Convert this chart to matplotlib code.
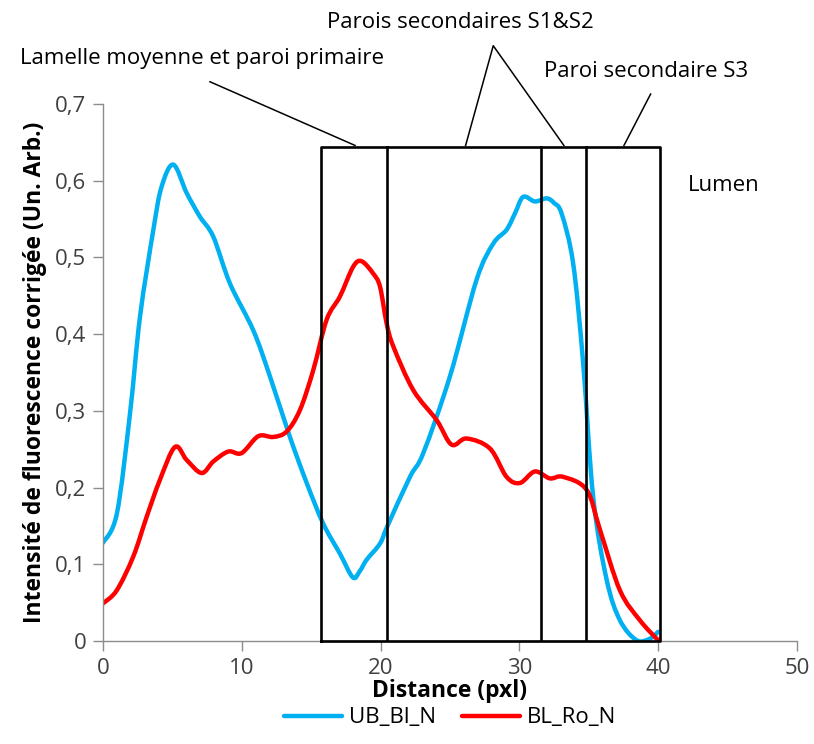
import numpy as np
import matplotlib
matplotlib.use("Agg")
import matplotlib.pyplot as plt
from matplotlib.path import Path
from matplotlib.patches import PathPatch
from matplotlib.lines import Line2D

# profils de fluorescence
blue_x = [0, 1.0, 1.95, 2.67, 3.63, 4.22, 5.07, 6.03, 6.99, 7.95, 9.15, 10.83,
          12.03, 13.47, 14.68, 15.87, 17.07, 18.0, 18.5, 19.0, 19.96, 20.5,
          22.12, 23.08, 25.0, 26.92, 28.12, 29.08, 29.7, 30.28, 31.12, 31.97,
          32.5, 33.05, 33.88, 34.6, 35.32, 36.29, 37.25, 38.45, 39.4, 40.0]
blue_y = [0.128, 0.166, 0.297, 0.423, 0.536, 0.592, 0.621, 0.584, 0.553, 0.527,
          0.466, 0.405, 0.345, 0.266, 0.206, 0.153, 0.114, 0.083, 0.091, 0.106,
          0.127, 0.150, 0.214, 0.245, 0.345, 0.471, 0.518, 0.536, 0.558, 0.579,
          0.573, 0.577, 0.571, 0.557, 0.492, 0.362, 0.188, 0.080, 0.027, 0.001,
          0.003, 0.012]

red_x = [0, 0.99, 2.18, 3.15, 4.1, 5.19, 6.03, 7.11, 7.95, 9.03, 9.99, 11.19,
         12.27, 13.23, 14.19, 15.15, 16.12, 17.07, 18.03, 18.64, 19.47, 19.96,
         20.44, 20.92, 22.36, 24.04, 25.12, 26.2, 27.88, 29.08, 30.04, 31.12,
         32.2, 33.16, 34.85, 35.81, 37.25, 38.69, 40.0]
red_y = [0.049, 0.066, 0.110, 0.162, 0.210, 0.253, 0.236, 0.219, 0.234, 0.247,
         0.245, 0.267, 0.266, 0.273, 0.301, 0.353, 0.419, 0.449, 0.488, 0.495,
         0.479, 0.462, 0.414, 0.384, 0.327, 0.288, 0.256, 0.264, 0.251, 0.214,
         0.206, 0.221, 0.212, 0.214, 0.197, 0.145, 0.066, 0.027, 0.001]

series_names = ['UB_Bl_N', 'BL_Ro_N']
series_colors = ['#00B0F0', '#FF0000']

# zones de la paroi
box_left, box_right, box_top = 15.7, 40.1, 0.644
inner_lines = [20.5, 31.55, 34.8]

plt.rcParams['font.family'] = ['Open Sans', 'DejaVu Sans']


def smooth_path(xs, ys):
    # courbe lissee facon Excel : segments de Bezier cubiques (Catmull-Rom)
    p = np.column_stack([xs, ys]).astype(float)
    n = len(p)
    verts = [p[0]]
    codes = [Path.MOVETO]
    for i in range(n - 1):
        p0 = p[i - 1] if i > 0 else p[i]
        p3 = p[i + 2] if i + 2 < n else p[i + 1]
        c1 = p[i] + (p[i + 1] - p0) / 6.0
        c2 = p[i + 1] - (p3 - p[i]) / 6.0
        verts += [c1, c2, p[i + 1]]
        codes += [Path.CURVE4] * 3
    return Path(verts, codes)


fig = plt.figure(figsize=(8.14, 7.44), dpi=100)
ax = fig.add_axes([0.1265, 0.1384, 0.8525, 0.7218])

for (xs, ys), col in zip([(blue_x, blue_y), (red_x, red_y)], series_colors):
    ax.add_patch(PathPatch(smooth_path(xs, ys), facecolor='none',
                           edgecolor=col, lw=3.2, joinstyle='round',
                           capstyle='round', zorder=2))

# cadre des zones
ax.plot([box_left, box_left, box_right, box_right, box_left],
        [0, box_top, box_top, 0, 0], color='black', lw=1.9, zorder=3,
        clip_on=False)
for xv in inner_lines:
    ax.plot([xv, xv], [0, box_top], color='black', lw=1.9, zorder=3)

# traits des annotations
ax.plot([7.71, 18.16], [0.729, 0.646], color='black', lw=1.1, clip_on=False)
ax.plot([26.13, 28.12, 33.21], [0.646, 0.776, 0.646], color='black', lw=1.1,
        clip_on=False)
ax.plot([39.46, 37.54], [0.713, 0.646], color='black', lw=1.1, clip_on=False)

txt = dict(fontsize=16, color='black', va='baseline', clip_on=False)
ax.text(-5.98, 0.752, 'Lamelle moyenne et paroi primaire', **txt)
ax.text(16.14, 0.799, 'Parois secondaires S1&S2', **txt)
ax.text(31.77, 0.735, 'Paroi secondaire S3', **txt)
ax.text(42.15, 0.586, 'Lumen', **txt)

ax.set_xlim(0, 50)
ax.set_ylim(0, 0.7)
ax.set_xticks(np.arange(0, 51, 10))
ax.set_yticks(np.arange(0, 0.71, 0.1))
ax.set_yticklabels(['0'] + ['0,%d' % i for i in range(1, 8)])

for s in ['top', 'right']:
    ax.spines[s].set_visible(False)
for s in ['left', 'bottom']:
    ax.spines[s].set_color('#8c8c8c')
    ax.spines[s].set_linewidth(1.0)
ax.tick_params(axis='both', direction='out', length=7, width=1.0,
               color='#8c8c8c', labelsize=16, labelcolor='#404040', pad=5)

ax.set_xlabel('Distance (pxl)', fontsize=16.5, fontweight='bold', labelpad=0)
ax.set_ylabel('Intensité de fluorescence corrigée (Un. Arb.)', fontsize=16.5,
              fontweight='bold', labelpad=6)

handles = [Line2D([], [], color=c, lw=3.2, solid_capstyle='round')
           for c in series_colors]
fig.legend(handles, series_names, loc='center',
           bbox_to_anchor=(450 / 814, 1 - 718 / 744), ncol=2,
           frameon=False, fontsize=16, handlelength=2.6, columnspacing=1.2,
           handletextpad=0.3)

fig.savefig('out.png', dpi=100)
